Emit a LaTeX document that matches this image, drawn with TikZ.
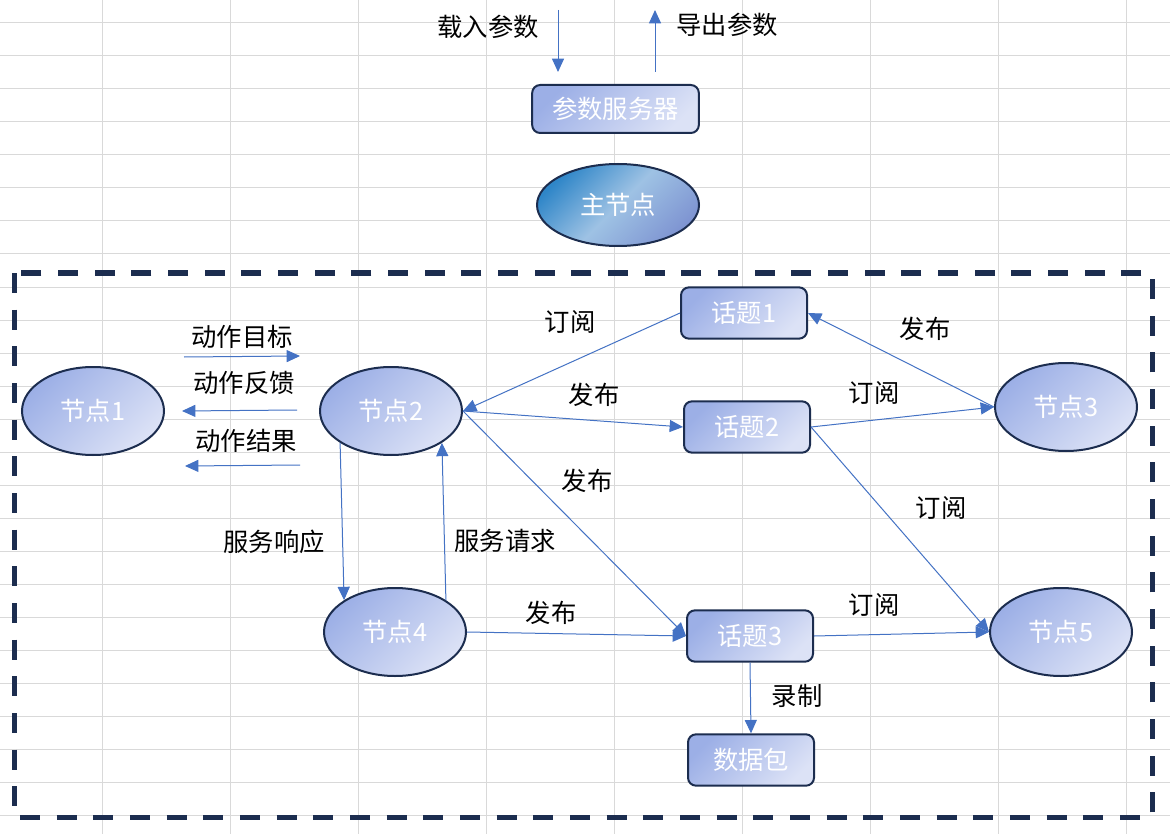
\documentclass[tikz,border=0pt]{standalone}
\usepackage{fontspec}
\setmainfont{Noto Sans CJK SC}
\usetikzlibrary{arrows.meta,calc,shapes.geometric}
\definecolor{gridc}{HTML}{D9D9D9}
\definecolor{navy}{HTML}{1C2D4F}
\definecolor{arrowc}{HTML}{4472C4}
\definecolor{fillA}{HTML}{9CAFE6}
\definecolor{fillB}{HTML}{DCE2F6}
\definecolor{mA}{HTML}{2F86C8}
\definecolor{mB}{HTML}{9EC2E4}
\definecolor{mC}{HTML}{7F95D2}
\begin{document}
\begin{tikzpicture}[x=0.75pt,y=-0.75pt,
  gridline/.style={draw=gridc,line width=0.75pt},
  ellnode/.style={ellipse,draw=navy,line width=1.5pt,minimum width=106.5pt,minimum height=66pt,inner sep=0pt,
    top color=fillA,bottom color=fillB,shading angle=45,text=white,font=\fontsize{19}{19}\selectfont},
  boxnode/.style={rectangle,rounded corners=6pt,draw=navy,line width=1.5pt,minimum width=94.5pt,minimum height=38.5pt,inner sep=0pt,
    top color=fillA,bottom color=fillB,shading angle=45,text=white,font=\fontsize{19}{19}\selectfont},
  lbl/.style={text=black,font=\fontsize{19}{19}\selectfont,inner sep=0pt},
  conn/.style={draw=arrowc,line width=0.75pt,-{Triangle[length=10pt,width=9pt]}},
  border/.style={draw=navy,line width=3.75pt,dash pattern=on 15pt off 12.5pt}
]
\useasboundingbox (0,0) rectangle (1170,834);
\fill[white] (0,0) rectangle (1170,834);
\foreach \y in {23,56,...,815} \draw[gridline] (0,\y) -- (1170,\y);
\foreach \x in {102,230,...,1126} \draw[gridline] (\x,0) -- (\x,834);

% dashed boundary
\draw[border] (14,273) rectangle (1152,817);

% parameter server and master
\node[boxnode,minimum width=125pt,minimum height=36pt] (ps) at (615.5,109) {参数服务器};
\node[ellipse,draw=navy,line width=1.5pt,minimum width=121.5pt,minimum height=61.5pt,inner sep=0pt,
  left color=mA,right color=mC,middle color=mB,shading angle=45,text=white,font=\fontsize{19}{19}\selectfont] (master) at (618,205) {主节点};

\coordinate (loadS) at (558,10);
\coordinate (loadE) at (558,72);
\coordinate (expS) at (655,72);
\coordinate (expE) at (655,10);
\draw[conn] (loadS) -- (loadE);
\draw[conn] (expS) -- (expE);
\node[lbl] (lload) at (488,27) {载入参数};
\node[lbl] (lexp) at (727,25) {导出参数};

% nodes
\node[ellnode] (n1) at (93,411) {节点1};
\node[ellnode] (n2) at (391,411) {节点2};
\node[ellnode] (n3) at (1066,407) {节点3};
\node[ellnode] (n4) at (395,632) {节点4};
\node[ellnode] (n5) at (1061,632) {节点5};

% topics
\node[boxnode] (t1) at (744,313) {话题1};
\node[boxnode] (t2) at (747,427) {话题2};
\node[boxnode] (t3) at (750,636) {话题3};
\node[boxnode] (bag) at (751,760) {数据包};

% action arrows
\coordinate (agS) at (184,357);
\coordinate (agE) at (300,356);
\coordinate (afS) at (297,410);
\coordinate (afE) at (182,411);
\coordinate (arS) at (300,465);
\coordinate (arE) at (185,466);
\draw[conn] (agS) -- (agE);
\draw[conn] (afS) -- (afE);
\draw[conn] (arS) -- (arE);
\node[lbl] (lag) at (242,337) {动作目标};
\node[lbl] (laf) at (244,383) {动作反馈};
\node[lbl] (lar) at (246,441) {动作结果};

% topic connectors
\draw[conn] (t1.west) -- (n2.east);
\draw[conn] (n2.east) -- (t2.west);
\draw[conn] (n2.east) -- (t3.west);
\draw[conn] (n3.west) -- (t1.east);
\draw[conn] (t2.east) -- (n3.west);
\draw[conn] (t2.east) -- (n5.west);
\draw[conn] (t3.east) -- (n5.west);
\draw[conn] (n4.east) -- (t3.west);
\draw[conn] (t3.south) -- (bag.north);

% services
\draw[conn] (n2.south west) -- (n4.north west);
\draw[conn] (n4.north east) -- (n2.south east);

% labels
\node[lbl] (l1) at (570,322) {订阅};
\node[lbl] (l2) at (594,395) {发布};
\node[lbl] (l3) at (587,481) {发布};
\node[lbl] (l4) at (925,329) {发布};
\node[lbl] (l5) at (874,393) {订阅};
\node[lbl] (l6) at (941,508) {订阅};
\node[lbl] (l7) at (874,605) {订阅};
\node[lbl] (l8) at (551,613) {发布};
\node[lbl] (l9) at (797,696) {录制};
\node[lbl] (l10) at (274,542) {服务响应};
\node[lbl] (l11) at (505,541) {服务请求};
\end{tikzpicture}
\end{document}
